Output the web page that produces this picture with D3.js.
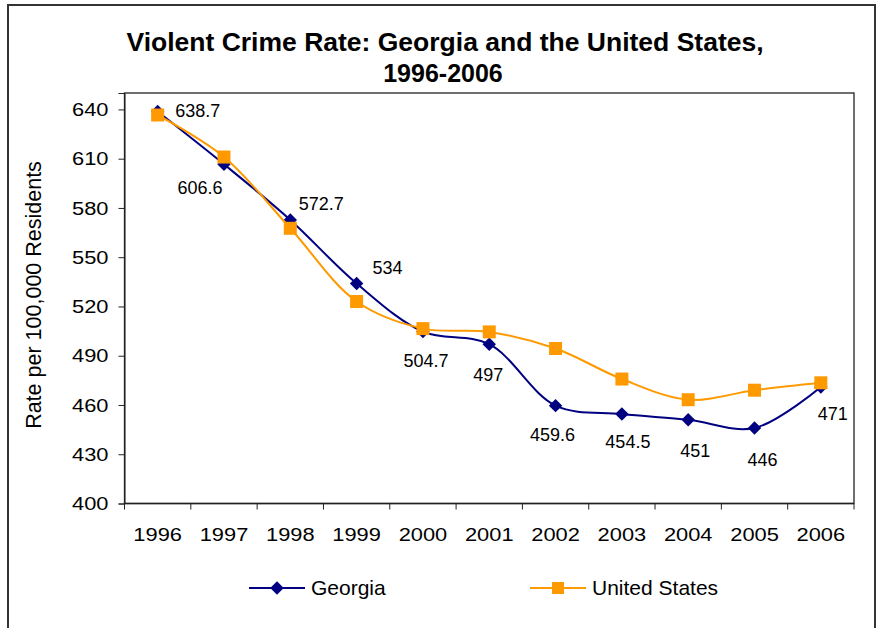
<!DOCTYPE html>
<html>
<head>
<meta charset="utf-8">
<script src="https://cdn.jsdelivr.net/npm/d3@7"></script>
<style>
  html, body { margin: 0; padding: 0; background: #fff; }
  svg { display: block; font-family: "Liberation Sans", Arial, sans-serif; }
</style>
</head>
<body>
<svg id="chart" width="879" height="628"></svg>
<script>
// Violent crime rate per 100,000 residents, 1996-2006
const years = ["1996","1997","1998","1999","2000","2001","2002","2003","2004","2005","2006"];
const georgia = [638.7, 606.6, 572.7, 534, 504.7, 497, 459.6, 454.5, 451, 446, 471];
const unitedStates = [636.6, 611.0, 567.6, 523.0, 506.5, 504.5, 494.4, 475.8, 463.2, 469.0, 473.5];
const yTicks = [400, 430, 460, 490, 520, 550, 580, 610, 640];

// Where each Georgia value label sits relative to its marker (centre offset)
const labelOffsets = [
  [40, -1], [-24, 23], [31, -16], [31, -16], [3, 29], [-1, 30],
  [-3, 29], [6, 28], [7, 31], [8, 32], [12, 27]
];

const navy = "#000080", orange = "#FF9900";
const tickFont = 19, tickStretch = 1.15;   // axis numbers are drawn slightly wide
const svg = d3.select("#chart");

// outer frame
svg.append("rect")
  .attr("x", 8).attr("y", 5).attr("width", 867).attr("height", 640)
  .attr("fill", "#fff").attr("stroke", "#333").attr("stroke-width", 2);

// title
svg.append("text").attr("x", 445).attr("y", 51).attr("text-anchor", "middle")
  .attr("font-size", 26.5).attr("font-weight", "bold")
  .text("Violent Crime Rate: Georgia and the United States,");
svg.append("text").attr("x", 443).attr("y", 82).attr("text-anchor", "middle")
  .attr("font-size", 25).attr("font-weight", "bold")
  .text("1996-2006");

const plot = { left: 124.5, right: 854, top: 93, bottom: 503.5 };

const x = d3.scaleBand().domain(years).range([plot.left, plot.right]).padding(0);
const y = d3.scaleLinear().domain([400, 650]).range([plot.bottom, plot.top]);

// plot box
svg.append("rect")
  .attr("x", plot.left).attr("y", plot.top)
  .attr("width", plot.right - plot.left).attr("height", plot.bottom - plot.top)
  .attr("fill", "none").attr("stroke", "#222").attr("stroke-width", 1.3);

// y axis
const yAxis = svg.append("g").attr("transform", `translate(${plot.left},0)`)
  .call(d3.axisLeft(y).tickValues(yTicks).tickSize(6).tickPadding(4));
yAxis.select(".domain").attr("stroke", "#222");
yAxis.selectAll(".tick line").attr("stroke", "#222");
yAxis.selectAll("text")
  .attr("font-size", tickFont).attr("fill", "#000")
  .attr("font-family", "Liberation Sans, Arial, sans-serif")
  .attr("x", -16 / tickStretch)
  .attr("transform", `scale(${tickStretch},1)`);

// x axis: ticks on category boundaries
const xAxisG = svg.append("g").attr("transform", `translate(0,${plot.bottom})`);
xAxisG.append("line").attr("x1", plot.left).attr("x2", plot.right)
  .attr("stroke", "#222").attr("stroke-width", 1.3);
const boundaries = years.map(d => x(d)).concat([x(years[years.length - 1]) + x.bandwidth()]);
xAxisG.selectAll("line.tick").data(boundaries).join("line")
  .attr("class", "tick")
  .attr("x1", d => d).attr("x2", d => d).attr("y1", 0).attr("y2", 6)
  .attr("stroke", "#222");
xAxisG.selectAll("text").data(years).join("text")
  .attr("transform", d => `translate(${x(d) + x.bandwidth() / 2},37) scale(${tickStretch},1)`)
  .attr("text-anchor", "middle").attr("font-size", tickFont).text(d => d);

// y axis title
svg.append("text")
  .attr("transform", "translate(41,295) rotate(-90)")
  .attr("text-anchor", "middle").attr("font-size", 21.5)
  .text("Rate per 100,000 Residents");

const cx = d => x(d) + x.bandwidth() / 2;
const line = d3.line().curve(d3.curveCatmullRom.alpha(0.5))
  .x(d => cx(d.year)).y(d => y(d.value));

const gaData = years.map((year, i) => ({ year, value: georgia[i] }));
const usData = years.map((year, i) => ({ year, value: unitedStates[i] }));

// Georgia series
svg.append("path").datum(gaData).attr("d", line)
  .attr("fill", "none").attr("stroke", navy).attr("stroke-width", 2);
svg.selectAll("path.ga-marker").data(gaData).join("path")
  .attr("class", "ga-marker")
  .attr("d", d3.symbol(d3.symbolDiamond2, 115))
  .attr("transform", d => `translate(${cx(d.year)},${y(d.value)})`)
  .attr("fill", navy);

// United States series
svg.append("path").datum(usData).attr("d", line)
  .attr("fill", "none").attr("stroke", orange).attr("stroke-width", 2);
svg.selectAll("rect.us-marker").data(usData).join("rect")
  .attr("class", "us-marker")
  .attr("x", d => cx(d.year) - 6.5).attr("y", d => y(d.value) - 6.5)
  .attr("width", 13).attr("height", 13).attr("fill", orange);

// Georgia value labels
svg.selectAll("text.ga-label").data(gaData).join("text")
  .attr("class", "ga-label")
  .attr("x", (d, i) => cx(d.year) + labelOffsets[i][0])
  .attr("y", (d, i) => y(d.value) + labelOffsets[i][1])
  .attr("dy", "0.35em").attr("text-anchor", "middle")
  .attr("font-size", 18).text(d => d.value);

// legend
const legend = [
  { name: "Georgia", color: navy, x0: 249, shape: "diamond" },
  { name: "United States", color: orange, x0: 530, shape: "square" }
];
const lg = svg.selectAll("g.legend").data(legend).join("g")
  .attr("class", "legend").attr("transform", d => `translate(${d.x0},588)`);
lg.append("line").attr("x1", 0).attr("x2", 56).attr("stroke", d => d.color).attr("stroke-width", 2);
lg.filter(d => d.shape === "diamond").append("path")
  .attr("d", d3.symbol(d3.symbolDiamond2, 115)).attr("transform", "translate(28,0)")
  .attr("fill", d => d.color);
lg.filter(d => d.shape === "square").append("rect")
  .attr("x", 22).attr("y", -6).attr("width", 12).attr("height", 12)
  .attr("fill", d => d.color);
lg.append("text").attr("x", 62).attr("dy", "0.35em").attr("font-size", 21)
  .text(d => d.name);
</script>
</body>
</html>
